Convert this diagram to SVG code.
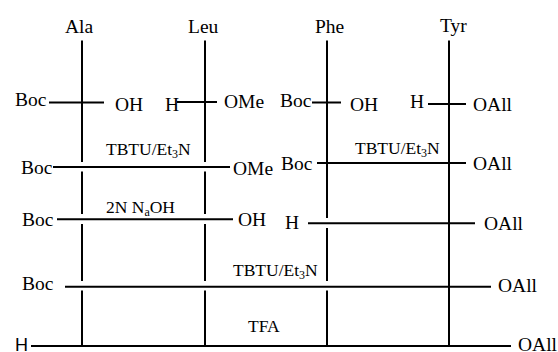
<svg xmlns="http://www.w3.org/2000/svg" width="558" height="352" viewBox="0 0 558 352">
  <style>
    text { font-family: "Liberation Serif", "Times New Roman", serif; fill: #000; }
    .t { font-size: 19.5px; }
    .r { font-size: 17.5px; }
    .sub { font-size: 12px; }
    .sans { font-family: "Liberation Sans", Arial, sans-serif; font-size: 18px; }
    .ln { stroke: #000; stroke-width: 2; fill: none; }
  </style>
  <rect width="558" height="352" fill="#fff"/>

  <!-- residue headers -->
  <g id="ala"><text class="t" x="65" y="33">Ala</text></g>
  <g id="leu"><text class="t" x="188" y="33">Leu</text></g>
  <g id="phe"><text class="t" x="315" y="33">Phe</text></g>
  <g id="tyr"><text class="t" x="440" y="32">Tyr</text></g>

  <!-- backbone and bond lines -->
  <g id="connectors" class="ln">
    <!-- residue chains (broken where a bond passes over) -->
    <path d="M82 40.5V162M82 171.5V214M82 224V281M82 290.5V346"/>
    <path d="M205 40.5V162M205 171.5V214M205 224V281M205 290.5V346"/>
    <path d="M327 40.5V218M327 228V281M327 290.5V346"/>
    <path d="M449 40.5V346"/>
    <!-- step 1: protected monomers -->
    <path d="M49 102.5H104M177 102H217M312 102.5H341M428 104H466"/>
    <!-- step 2: dipeptides -->
    <path d="M53 167H230M317 163H466"/>
    <!-- step 3: hydrolysis / deprotection -->
    <path d="M57 219.3H233M308 223.3H475"/>
    <!-- step 4: tetrapeptide -->
    <path d="M65 286.7H491"/>
    <!-- step 5: free amine -->
    <path d="M31 346H511"/>
  </g>

  <g id="step1">
    <text class="t" x="15" y="106">Boc</text>
    <text class="t" x="115" y="110.5">OH</text>
    <text class="t" x="165" y="110.5" font-size="21.5">H</text>
    <text class="t" x="224" y="108">OMe</text>
    <text class="t" x="280" y="107">Boc</text>
    <text class="t" x="350" y="111">OH</text>
    <text class="t" x="410" y="108">H</text>
    <text class="t" x="473" y="111">OAll</text>
  </g>

  <g id="step2">
    <text class="t" x="21" y="174">Boc</text>
    <text class="r" x="106" y="155">TBTU/Et<tspan class="sub" dy="3">3</tspan><tspan dy="-3">N</tspan></text>
    <text class="t" x="233" y="175">OMe</text>
    <text class="t" x="281" y="170">Boc</text>
    <text class="r" x="355" y="154">TBTU/Et<tspan class="sub" dy="3">3</tspan><tspan dy="-3">N</tspan></text>
    <text class="t" x="473" y="170">OAll</text>
  </g>

  <g id="step3">
    <text class="t" x="22" y="226">Boc</text>
    <text class="r" x="106" y="213">2N N<tspan class="sub" dy="3">a</tspan><tspan dy="-3">OH</tspan></text>
    <text class="t" x="238" y="226">OH</text>
    <text class="t" x="285" y="229">H</text>
    <text class="t" x="484" y="230">OAll</text>
  </g>

  <g id="step4">
    <text class="t" x="22" y="290">Boc</text>
    <text class="r" x="233" y="276">TBTU/Et<tspan class="sub" dy="3">3</tspan><tspan dy="-3">N</tspan></text>
    <text class="t" x="498" y="292">OAll</text>
  </g>

  <g id="step5">
    <text class="r" x="248" y="332">TFA</text>
    <text class="sans" x="15" y="350.5">H</text>
    <text class="t" x="518" y="350.5" font-size="18">OAll</text>
  </g>
</svg>
